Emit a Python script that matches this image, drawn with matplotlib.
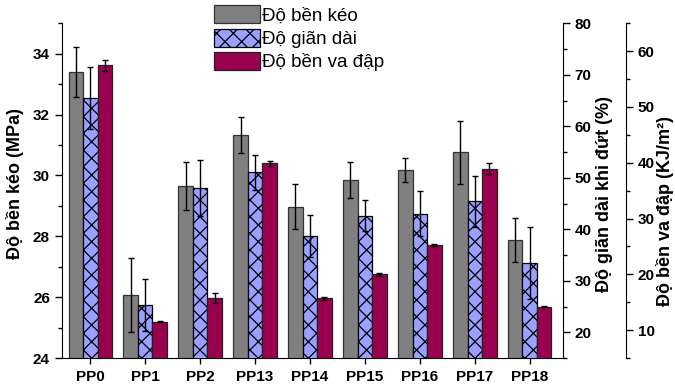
import numpy as np
import matplotlib.pyplot as plt
from matplotlib.ticker import MultipleLocator

plt.rcParams['font.family'] = ['Liberation Sans', 'DejaVu Sans']
plt.rcParams['hatch.linewidth'] = 0.9

samples = ['PP0', 'PP1', 'PP2', 'PP13', 'PP14', 'PP15', 'PP16', 'PP17', 'PP18']

# tensile strength (MPa)
tensile = [33.40, 26.07, 29.65, 31.33, 28.97, 29.85, 30.18, 30.76, 27.88]
tensile_err = [0.83, 1.21, 0.80, 0.60, 0.74, 0.60, 0.38, 1.04, 0.71]

# elongation at break (%)
elong = [65.5, 25.3, 48.0, 51.1, 38.7, 42.6, 43.0, 45.4, 33.5]
elong_err = [6.0, 5.0, 5.5, 3.4, 4.0, 3.0, 4.4, 4.9, 7.0]

# impact strength (KJ/m2)
impact = [57.5, 11.5, 15.7, 39.9, 15.7, 20.0, 25.2, 38.9, 14.2]
impact_err = [1.0, 0.1, 0.9, 0.45, 0.3, 0.3, 0.2, 1.0, 0.1]

labels = ['Độ bền kéo', 'Độ giãn dài', 'Độ bền va đập']

fig = plt.figure(figsize=(6.75, 3.85), dpi=100)
ax = fig.add_axes([0.0914, 0.0701, 0.7422, 0.8694])
ax2 = ax.twinx()
ax3 = ax.twinx()
ax3.spines['right'].set_position(('axes', 1.1264))

x = np.arange(len(samples))
w = 0.264
ekw = dict(ecolor='black', elinewidth=1.0, capsize=2.5, capthick=1.0)

b1 = ax.bar(x - w, tensile, w, yerr=tensile_err, color='#808080',
            edgecolor='#333333', linewidth=0.9, error_kw=ekw, label=labels[0])
b2 = ax2.bar(x, elong, w, yerr=elong_err, color='#99a0ff', hatch='xx',
             edgecolor='black', linewidth=0.9, error_kw=ekw, label=labels[1])
b3 = ax3.bar(x + w, impact, w, yerr=impact_err, color='#99004d',
             edgecolor='#222222', linewidth=0.9, error_kw=ekw, label=labels[2])

ax.set_xlim(-0.52, 8.6)
ax.set_ylim(24, 35)
ax2.set_ylim(15, 80)
ax3.set_ylim(5, 65)

ax.set_xticks(x)
ax.set_xticklabels(samples, fontsize=11, fontweight='bold')
ax.tick_params(axis='x', length=4.5, width=1, pad=4)

ax.yaxis.set_major_locator(MultipleLocator(2))
ax.yaxis.set_minor_locator(MultipleLocator(1))
ax.set_yticks(np.arange(24, 35, 2))
for a in (ax2, ax3):
    a.yaxis.set_major_locator(MultipleLocator(10))
    a.yaxis.set_minor_locator(MultipleLocator(5))
ax2.set_yticks(np.arange(20, 81, 10))
ax3.set_yticks(np.arange(10, 61, 10))

for a in (ax, ax2, ax3):
    a.tick_params(axis='y', which='major', length=5, width=1, labelsize=11,
                  pad=3.5)
    a.tick_params(axis='y', which='minor', length=3, width=1)
    for lab in a.get_yticklabels():
        lab.set_fontweight('bold')
    a.spines['top'].set_visible(False)

ax.spines['right'].set_visible(False)
ax2.spines['left'].set_visible(False)
ax3.spines['left'].set_visible(False)
ax2.spines['bottom'].set_visible(False)
ax3.spines['bottom'].set_visible(False)

ax.set_ylabel('Độ bền kéo (MPa)', fontsize=13, fontweight='bold')
ax2.set_ylabel('Độ giãn dài khi đứt (%)', fontsize=13, fontweight='bold')
ax3.set_ylabel('Độ bền va đập (KJ/m²)', fontsize=13, fontweight='bold')
ax.yaxis.set_label_coords(-0.076, 0.52)
ax2.yaxis.set_label_coords(1.066, 0.49)
ax3.yaxis.set_label_coords(1.186, 0.44)

fig.legend([b1, b2, b3], labels, loc='upper left',
           bbox_to_anchor=(214 / 675, 1 - 5 / 385), frameon=False,
           fontsize=13.5, handlelength=2.45, handleheight=1.1,
           handletextpad=0.1, labelspacing=0.22, borderpad=0,
           borderaxespad=0)

fig.savefig('out.png', dpi=100)
